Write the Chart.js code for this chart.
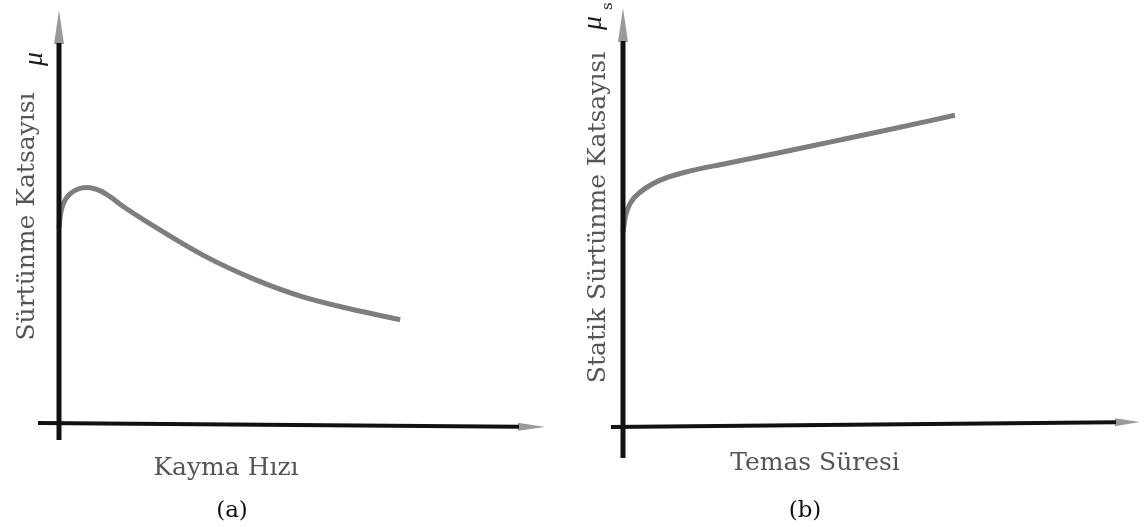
<!DOCTYPE html>
<html>
<head>
<meta charset="utf-8">
<script src="https://cdn.jsdelivr.net/npm/chart.js@4.4.0/dist/chart.umd.min.js"></script>
<style>
  html, body { margin: 0; padding: 0; background: #fff; overflow: hidden; }
  .panel { position: absolute; top: 0; height: 527px; }
  #panelA { left: 0; width: 575px; }
  #panelB { left: 575px; width: 572px; }
</style>
</head>
<body>
<div class="panel" id="panelA"><canvas id="chartA"></canvas></div>
<div class="panel" id="panelB"><canvas id="chartB"></canvas></div>
<script>

// (a) Sürtünme katsayısı - kayma hızı (values in % of axis length)
const speedA = [0, 0.3, 1.0, 2.2, 3.8, 5.8, 8.5, 10.5, 13, 20, 30, 40, 50, 60, 70.2];
const muA    = [47.2, 50.5, 53.4, 55.4, 56.6, 57.0, 56.2, 54.8, 52.6, 47.3, 40.4, 34.9, 30.6, 27.6, 25.0];

// (b) Statik sürtünme katsayısı - temas süresi
const timeB = [0, 0.5, 1.5, 3.5, 7, 12, 20, 30, 40, 50, 64.2];
const muB   = [46.5, 50.5, 53.6, 56.2, 58.8, 60.8, 62.9, 65.4, 68.0, 70.6, 74.4];

const SERIF = '"DejaVu Serif", "Liberation Serif", serif';
const curveColor = '#7e7e7e';

function toPoints(xs, ys) {
    return xs.map((x, i) => ({ x: x, y: ys[i] }));
}

// draws the hand-drawn looking axes with arrows, the x label, caption and mu symbol
const sketchAxes = {
    id: 'sketchAxes',
    afterDatasetsDraw(chart, args, opts) {
        const { ctx, chartArea } = chart;
        const L = chartArea.left, R = chartArea.right, T = chartArea.top, B = chartArea.bottom;
        const xStart = L - opts.xBefore;
        const slope = opts.xDrop / (R - xStart);   // the scanned x axis is not quite level
        const yAt = x => B + (x - xStart) * slope;
        ctx.save();

        // arrow heads (grey, like the scan)
        ctx.fillStyle = '#9a9a9a';
        ctx.beginPath();
        ctx.moveTo(L, T);
        ctx.lineTo(L + 5, T + 34);
        ctx.lineTo(L - 5, T + 34);
        ctx.closePath();
        ctx.fill();

        const baseX = R - opts.arrowX;
        ctx.beginPath();
        ctx.moveTo(R, yAt(R));
        ctx.lineTo(baseX, yAt(baseX) - 4);
        ctx.lineTo(baseX, yAt(baseX) + 4);
        ctx.closePath();
        ctx.fill();

        // axis lines
        ctx.strokeStyle = '#111';
        ctx.lineCap = 'butt';
        ctx.lineWidth = 5;
        ctx.beginPath();
        ctx.moveTo(L, T + 33);
        ctx.lineTo(L, B + opts.yBelow);
        ctx.stroke();

        ctx.lineWidth = 4;
        ctx.beginPath();
        ctx.moveTo(xStart, B);
        ctx.lineTo(baseX + 1, yAt(baseX + 1));
        ctx.stroke();

        // x axis label and caption
        ctx.textAlign = 'center';
        ctx.textBaseline = 'middle';
        ctx.fillStyle = '#555';
        ctx.font = '25px ' + SERIF;
        ctx.fillText(opts.xLabel, opts.xLabelAt[0], opts.xLabelAt[1]);

        ctx.fillStyle = '#111';
        ctx.font = '23px ' + SERIF;
        ctx.fillText(opts.caption, opts.captionAt[0], opts.captionAt[1]);

        // mu symbol, rotated like the y title
        ctx.translate(opts.muAt[0], opts.muAt[1]);
        ctx.rotate(-Math.PI / 2);
        ctx.fillStyle = '#1c1c28';
        ctx.font = 'italic 28px "Liberation Serif", serif';
        ctx.textAlign = 'left';
        ctx.fillText('μ', -8, 0);
        if (opts.muSub) {
            ctx.font = '15px ' + SERIF;
            ctx.fillText(opts.muSub, 12, 14);
        }
        ctx.restore();
    }
};

function makeChart(canvasId, xs, ys, cfg) {
    return new Chart(document.getElementById(canvasId), {
        type: 'scatter',
        data: {
            datasets: [{
                data: toPoints(xs, ys),
                showLine: true,
                borderColor: curveColor,
                borderWidth: 5,
                pointRadius: 0,
                cubicInterpolationMode: 'monotone',
                clip: false
            }]
        },
        options: {
            responsive: true,
            maintainAspectRatio: false,
            animation: false,
            layout: {
                padding: { top: cfg.top, right: cfg.right, bottom: cfg.bottom, left: 0 }
            },
            plugins: {
                legend: { display: false },
                tooltip: { enabled: false },
                sketchAxes: cfg.axes
            },
            scales: {
                x: {
                    type: 'linear',
                    min: 0,
                    max: 100,
                    display: false
                },
                y: {
                    type: 'linear',
                    min: 0,
                    max: 100,
                    grid: { display: false },
                    border: { display: false },
                    ticks: { display: false },
                    title: {
                        display: true,
                        text: cfg.yTitle,
                        color: '#555',
                        font: { family: SERIF, size: 25 },
                        padding: { top: cfg.yTitlePad, bottom: 0 }
                    },
                    afterFit: function (scale) {
                        scale.width = cfg.yWidth;
                    }
                }
            }
        },
        plugins: [sketchAxes]
    });
}

makeChart('chartA', speedA, muA, {
    yTitle: 'Sürtünme Katsayısı',
    yTitlePad: 12,
    yWidth: 59,
    top: 10,
    right: 30,
    bottom: 104,
    axes: {
        arrowX: 27, xBefore: 21, yBelow: 17, xDrop: 4,
        xLabel: 'Kayma Hızı', xLabelAt: [226, 468],
        caption: '(a)', captionAt: [232, 511],
        muAt: [35, 58], muSub: ''
    }
});

makeChart('chartB', timeB, muB, {
    yTitle: 'Statik Sürtünme Katsayısı',
    yTitlePad: 8,
    yWidth: 48,
    top: 8,
    right: 7,
    bottom: 100,
    axes: {
        arrowX: 25, xBefore: 12, yBelow: 31, xDrop: -5,
        xLabel: 'Temas Süresi', xLabelAt: [240, 463],
        caption: '(b)', captionAt: [230, 511],
        muAt: [19, 22], muSub: 's'
    }
});
</script>
</body>
</html>
